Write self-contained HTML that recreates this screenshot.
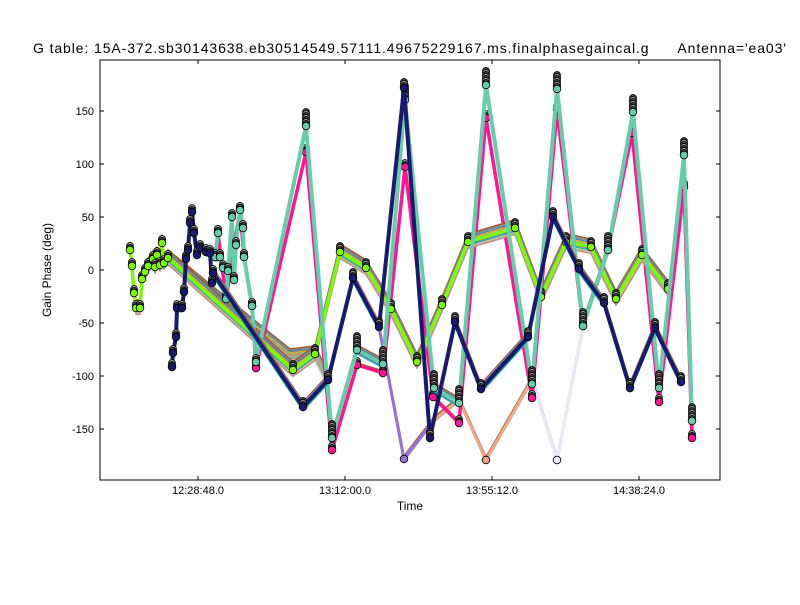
<!DOCTYPE html>
<html><head><meta charset="utf-8"><style>
body{margin:0;background:#fff;font-family:"Liberation Sans",sans-serif}
svg text{font-family:"Liberation Sans",sans-serif}
</style></head><body>
<svg id="s" width="800" height="600" xmlns="http://www.w3.org/2000/svg">
<rect width="800" height="600" fill="#fff"/>
<text x="33" y="53" font-size="14" textLength="753" lengthAdjust="spacing" style="white-space:pre" xml:space="preserve">G table: 15A-372.sb30143638.eb30514549.57111.49675229167.ms.finalphasegaincal.g      Antenna='ea03'</text>
<defs><clipPath id="c"><rect x="100" y="60" width="620" height="420"/></clipPath></defs>
<g id="plot" clip-path="url(#c)"></g>
<rect x="100" y="60" width="620" height="420" fill="none" stroke="#000" stroke-width="1"/>
<g id="ax" font-size="11"></g>
<text x="410" y="510" font-size="12" text-anchor="middle">Time</text>
<text x="51" y="270" font-size="12" text-anchor="middle" transform="rotate(-90 51 270)">Gain Phase (deg)</text>
</svg>
<script>
var NS="http://www.w3.org/2000/svg",P=document.getElementById('plot'),A=document.getElementById('ax');
function el(t,a,p){var e=document.createElementNS(NS,t);for(var k in a)e.setAttribute(k,a[k]);(p||P).appendChild(e);return e;}
var yt=[[150,111],[100,164],[50,217],[0,270],[-50,323],[-100,376],[-150,429]];
yt.forEach(function(t){el('line',{x1:100,x2:104,y1:t[1],y2:t[1],stroke:'#000'},A);el('line',{x1:716,x2:720,y1:t[1],y2:t[1],stroke:'#000'},A);
var tx=el('text',{x:94,y:t[1]+4,'text-anchor':'end'},A);tx.textContent=t[0];});
[[198,'12:28:48.0'],[345,'13:12:00.0'],[492,'13:55:12.0'],[639,'14:38:24.0']].forEach(function(t){
el('line',{x1:t[0],x2:t[0],y1:480,y2:476,stroke:'#000'},A);el('line',{x1:t[0],x2:t[0],y1:60,y2:64,stroke:'#000'},A);
var tx=el('text',{x:t[0],y:494,'text-anchor':'middle'},A);tx.textContent=t[1];});
var pal=['#a0522d','#888','#4682b4','#daa520','#8fbc8f','#cd853f','#6a5acd','#20b2aa','#d2b48c','#bc8f8f','#9acd32','#b0c4de','#ff7f50','#778899','#c0c0c0'];
function bundle(pts,main,spread,n,mk,w,mcol,stack){
 for(var i=0;i<n;i++){var off=(i-n/2)*spread/n;
  el('polyline',{points:pts.map(function(p){return p[0]+','+(p[1]+off)}).join(' '),fill:'none',stroke:pal[i%pal.length],'stroke-width':1.5,'stroke-linejoin':'round'});}
 el('polyline',{points:pts.map(function(p){return p.join(',')}).join(' '),fill:'none',stroke:main,'stroke-width':w||3.5,'stroke-linejoin':'round'});
 if(mk!==false)pts.forEach(function(p){var s=(p[0]<270)?4:(stack||6);
  for(var k=s;k>0;k-=2)el('circle',{cx:p[0],cy:p[1]-k,r:3.5,fill:k%4?'#444':'#999',stroke:'#000','stroke-width':0.8});
  el('circle',{cx:p[0],cy:p[1],r:3.8,fill:mcol||main,stroke:'#000','stroke-width':0.8});});
}
bundle([[379,327],[404,459],[434,420],[459,400],[486,460],[532,380],[557,460],[583,327]],'#f4a582',6,5,false,3);
el('polyline',{points:'379,327 404,459 434,420',fill:'none',stroke:'#9370db','stroke-width':3});
el('polyline',{points:'532,380 557,460 583,327',fill:'none',stroke:'#e8e8f8','stroke-width':3});
[[404,459,'#9370db'],[486,460,'#f4a582'],[557,460,'#eef']].forEach(function(p){el('circle',{cx:p[0],cy:p[1],r:3.8,fill:p[2],stroke:'#000','stroke-width':0.8});});
bundle([[168,258],[290,357],[315,354],[328,380]],'#aaa',16,12,false,2);
bundle([[218,233],[226,299],[240,210],[244,257],[252,306],[256,368],[306,152],[332,450],[357,365],[383,373],[405,167],[433,397],[459,423],[486,118],[532,398],[557,110],[583,326],[608,250],[632,133],[659,402],[684,187],[692,438]],'#ff1493',4,3,true,3.5,null,4);
bundle([[130,250],[132,266],[134,293],[136,308],[140,308],[142,279],[145,272],[148,266],[153,259],[155,267],[157,255],[160,265],[162,243],[164,263],[168,258],[293,370],[315,354],[340,252],[366,268],[391,309],[417,362],[442,305],[468,242],[515,228],[541,297],[566,242],[591,247],[616,299],[642,255],[668,289]],'#7cfc00',16,10,true,3.5,null,6);
bundle([[218,233],[215,257],[220,257],[223,268],[228,271],[226,299],[232,217],[234,280],[236,245],[240,210],[243,228],[244,257],[252,306],[256,362],[306,126],[332,438],[357,350],[383,364],[405,100],[434,388],[459,403],[486,85],[532,384],[557,89],[583,326],[608,250],[633,112],[659,388],[684,155],[692,421]],'#66cdaa',10,8,true,4,null,14);
bundle([[172,367],[173,353],[176,337],[177,308],[182,308],[184,292],[186,259],[188,250],[190,223],[192,212],[194,233],[197,255],[200,248],[206,252],[210,253],[212,283],[213,273],[303,407],[328,380],[353,278],[379,327],[404,88],[430,438],[455,322],[481,389],[528,337],[553,217],[579,269],[604,303],[630,388],[655,328],[681,382]],'#191970',10,8,true,4,null,6);
</script>
</body></html>
